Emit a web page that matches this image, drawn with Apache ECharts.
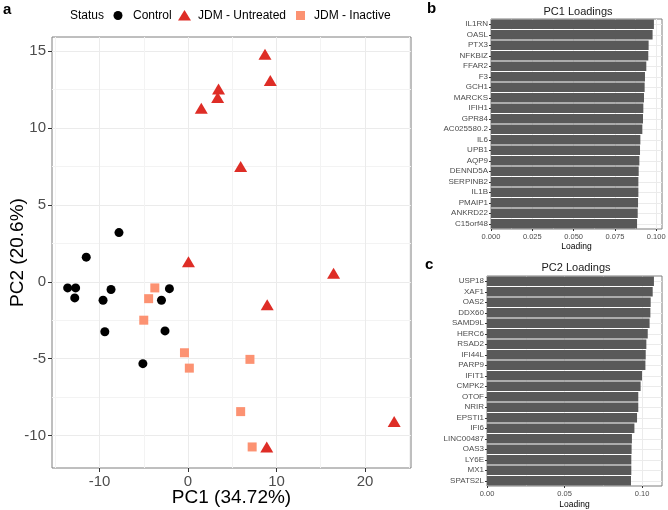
<!DOCTYPE html>
<html>
<head>
<meta charset="utf-8">
<script src="https://cdn.jsdelivr.net/npm/echarts@6/dist/echarts.min.js"></script>
<style>
html,body{margin:0;padding:0;background:#fff;}
#chart{width:668px;height:510px;}
</style>
</head>
<body>
<div id="chart"></div>
<script>
// ---- Data: PCA scores ----
const controlPC1 = [-11.5, -7.8, -13.6, -12.7, -12.8, -8.7, -9.6, -9.4, -5.1, -2.1, -3.0, -2.6];
const controlPC2 = [1.6, 3.2, -0.4, -0.4, -1.05, -0.5, -1.2, -3.25, -5.33, -0.45, -1.2, -3.2];
const untreatedPC1 = [1.5, 3.45, 3.35, 0.05, 8.7, 9.3, 5.95, 16.45, 8.95, 23.3, 8.9];
const untreatedPC2 = [11.3, 12.55, 12.0, 1.3, 14.8, 13.1, 7.5, 0.55, -1.5, -9.1, -10.75];
const inactivePC1 = [-3.75, -4.45, -5.0, -0.4, 0.15, 7.0, 5.95, 7.25];
const inactivePC2 = [-0.4, -1.1, -2.5, -4.62, -5.62, -5.05, -8.45, -10.75];

// ---- Data: loadings ----
const pc1Genes = ['IL1RN','OASL','PTX3','NFKBIZ','FFAR2','F3','GCH1','MARCKS','IFIH1','GPR84',
  'AC025580.2','IL6','UPB1','AQP9','DENND5A','SERPINB2','IL1B','PMAIP1','ANKRD22','C15orf48'];
const pc1Loadings = [0.0986,0.0978,0.0954,0.0952,0.0940,0.0932,0.0930,0.0926,0.0922,0.0920,
  0.0916,0.0904,0.0902,0.0898,0.0894,0.0892,0.0892,0.0890,0.0888,0.0884];
const pc2Genes = ['USP18','XAF1','OAS2','DDX60','SAMD9L','HERC6','RSAD2','IFI44L','PARP9','IFIT1',
  'CMPK2','OTOF','NRIR','EPSTI1','IFI6','LINC00487','OAS3','LY6E','MX1','SPATS2L'];
const pc2Loadings = [0.1077,0.1069,0.1056,0.1054,0.1049,0.1037,0.1028,0.1024,0.1022,0.1000,
  0.0991,0.0976,0.0976,0.0968,0.0951,0.0935,0.0933,0.0931,0.0931,0.0929];

// ---- Tick labels ----
const pc1Ticks = [-10, 0, 10, 20];
const pc2Ticks = [-10, -5, 0, 5, 10, 15];
const loadTicksB = [0, 0.025, 0.05, 0.075, 0.1];
const loadTicksC = [0, 0.05, 0.1];

function zip(a, b) { return a.map((v, i) => [v, b[i]]); }

const FONT = '"Liberation Sans", Arial, Helvetica, sans-serif';
const GRID_MAJ = '#EBEBEB';
const GRID_MIN = '#F3F3F3';
const TXT = '#4D4D4D';
const BORDER = '#7F7F7F';
const centerLines = Array.from({length: 41}, (_, i) => String(i));

const chart = echarts.init(document.getElementById('chart'), null, {renderer: 'canvas'});

const option = {
  backgroundColor: '#fff',
  animation: false,
  textStyle: {fontFamily: FONT},
  title: [
    {text: 'PC1 Loadings', left: 573, top: 1, textAlign: 'center',
      textStyle: {fontSize: 11, fontWeight: 'normal', color: '#1a1a1a', fontFamily: FONT}},
    {text: 'PC2 Loadings', left: 571, top: 257, textAlign: 'center',
      textStyle: {fontSize: 11, fontWeight: 'normal', color: '#1a1a1a', fontFamily: FONT}}
  ],
  grid: [
    {left: 52, top: 37, width: 359, height: 431, show: true, borderColor: BORDER, borderWidth: 1,
      containLabel: false, outerBoundsMode: 'none'},
    {left: 491, top: 19, width: 171, height: 210, show: true, borderColor: BORDER, borderWidth: 1,
      containLabel: false, outerBoundsMode: 'none'},
    {left: 487, top: 276, width: 175, height: 210, show: true, borderColor: BORDER, borderWidth: 1,
      containLabel: false, outerBoundsMode: 'none'}
  ],
  xAxis: [
    {gridIndex: 0, type: 'value', min: -15.37, max: 25.2, minInterval: 10, maxInterval: 10,
      name: 'PC1 (34.72%)', nameLocation: 'middle', nameGap: 20, nameMoveOverlap: false,
      nameTextStyle: {fontSize: 19, color: '#000', fontFamily: FONT},
      axisLine: {show: false, onZero: false},
      axisTick: {show: true, length: 4, lineStyle: {color: '#333'}, customValues: pc1Ticks},
      axisLabel: {fontSize: 15, color: TXT, margin: 6, customValues: pc1Ticks, fontFamily: FONT},
      splitLine: {show: true, lineStyle: {color: GRID_MAJ, width: 1}},
      minorTick: {show: false, splitNumber: 2},
      minorSplitLine: {show: true, lineStyle: {color: GRID_MIN, width: 1}}
    },
    {gridIndex: 1, type: 'value', min: 0, max: 0.1035, minInterval: 0.025, maxInterval: 0.025,
      name: 'Loading', nameLocation: 'middle', nameGap: 13, nameMoveOverlap: false,
      nameTextStyle: {fontSize: 8.5, color: '#000', fontFamily: FONT},
      axisLine: {show: false, onZero: false},
      axisTick: {show: true, length: 2, lineStyle: {color: '#333'}, customValues: loadTicksB},
      axisLabel: {fontSize: 7.5, color: TXT, margin: 4, customValues: loadTicksB,
        formatter: v => v.toFixed(3), fontFamily: FONT},
      splitLine: {show: true, lineStyle: {color: GRID_MAJ, width: 1}},
      minorTick: {show: false, splitNumber: 2},
      minorSplitLine: {show: true, lineStyle: {color: GRID_MIN, width: 1}}
    },
    {gridIndex: 2, type: 'value', min: 0, max: 0.1129, minInterval: 0.05, maxInterval: 0.05,
      name: 'Loading', nameLocation: 'middle', nameGap: 14, nameMoveOverlap: false,
      nameTextStyle: {fontSize: 8.5, color: '#000', fontFamily: FONT},
      axisLine: {show: false, onZero: false},
      axisTick: {show: true, length: 2, lineStyle: {color: '#333'}, customValues: loadTicksC},
      axisLabel: {fontSize: 7.5, color: TXT, margin: 4, customValues: loadTicksC,
        formatter: v => v.toFixed(2), fontFamily: FONT},
      splitLine: {show: true, lineStyle: {color: GRID_MAJ, width: 1}},
      minorTick: {show: false, splitNumber: 2},
      minorSplitLine: {show: true, lineStyle: {color: GRID_MIN, width: 1}}
    }
  ],
  yAxis: [
    {gridIndex: 0, type: 'value', min: -12.12, max: 15.93, minInterval: 5, maxInterval: 5,
      name: 'PC2 (20.6%)', nameLocation: 'middle', nameGap: 25, nameMoveOverlap: false,
      nameTextStyle: {fontSize: 19, color: '#000', fontFamily: FONT},
      axisLine: {show: false, onZero: false},
      axisTick: {show: true, length: 4, lineStyle: {color: '#333'}, customValues: pc2Ticks},
      axisLabel: {fontSize: 15, color: TXT, margin: 6, customValues: pc2Ticks, fontFamily: FONT},
      splitLine: {show: true, lineStyle: {color: GRID_MAJ, width: 1}},
      minorTick: {show: false, splitNumber: 2},
      minorSplitLine: {show: true, lineStyle: {color: GRID_MIN, width: 1}}
    },
    {gridIndex: 1, type: 'category', data: pc1Genes, inverse: true,
      axisLine: {show: false, onZero: false},
      axisTick: {show: true, length: 2, alignWithLabel: true, lineStyle: {color: '#333'}},
      axisLabel: {fontSize: 8, color: TXT, margin: 3, interval: 0, fontFamily: FONT},
      splitLine: {show: false}
    },
    {gridIndex: 2, type: 'category', data: pc2Genes, inverse: true,
      axisLine: {show: false, onZero: false},
      axisTick: {show: true, length: 2, alignWithLabel: true, lineStyle: {color: '#333'}},
      axisLabel: {fontSize: 8, color: TXT, margin: 3, interval: 0, fontFamily: FONT},
      splitLine: {show: false}
    },
    // helper axes: horizontal grid lines at category centres (ggplot style)
    {gridIndex: 1, type: 'category', data: centerLines, boundaryGap: false, position: 'right',
      axisLine: {show: false}, axisTick: {show: false}, axisLabel: {show: false},
      splitLine: {show: true, interval: (i) => i % 2 === 1, lineStyle: {color: GRID_MAJ, width: 1}}
    },
    {gridIndex: 2, type: 'category', data: centerLines, boundaryGap: false, position: 'right',
      axisLine: {show: false}, axisTick: {show: false}, axisLabel: {show: false},
      splitLine: {show: true, interval: (i) => i % 2 === 1, lineStyle: {color: GRID_MAJ, width: 1}}
    }
  ],
  series: [
    {name: 'Control', type: 'scatter', xAxisIndex: 0, yAxisIndex: 0,
      data: zip(controlPC1, controlPC2), symbol: 'circle', symbolSize: 9,
      itemStyle: {color: '#000000', opacity: 1}},
    {name: 'JDM - Untreated', type: 'scatter', xAxisIndex: 0, yAxisIndex: 0,
      data: zip(untreatedPC1, untreatedPC2), symbol: 'triangle', symbolSize: [13, 11],
      itemStyle: {color: '#DE2D26', opacity: 1}},
    {name: 'JDM - Inactive', type: 'scatter', xAxisIndex: 0, yAxisIndex: 0,
      data: zip(inactivePC1, inactivePC2), symbol: 'rect', symbolSize: 9,
      itemStyle: {color: '#FC9272', opacity: 1}},
    {name: 'PC1 Loadings', type: 'bar', xAxisIndex: 1, yAxisIndex: 1,
      data: pc1Loadings, barWidth: '90%', itemStyle: {color: '#595959'}},
    {name: 'PC2 Loadings', type: 'bar', xAxisIndex: 2, yAxisIndex: 2,
      data: pc2Loadings, barWidth: '90%', itemStyle: {color: '#595959'}}
  ],
  graphic: [
    // panel letters
    {type: 'text', left: 3, top: 2, style: {text: 'a', font: 'bold 15px ' + FONT, fill: '#000'}},
    {type: 'text', left: 427, top: 1, style: {text: 'b', font: 'bold 15px ' + FONT, fill: '#000'}},
    {type: 'text', left: 425, top: 257, style: {text: 'c', font: 'bold 15px ' + FONT, fill: '#000'}},
    // legend
    {type: 'text', x: 70, y: 15.5, style: {text: 'Status', font: '12px ' + FONT, fill: '#000', textVerticalAlign: 'middle'}},
    {type: 'circle', shape: {cx: 118, cy: 15.5, r: 4.5}, style: {fill: '#000'}},
    {type: 'text', x: 133, y: 15.5, style: {text: 'Control', font: '12px ' + FONT, fill: '#000', textVerticalAlign: 'middle'}},
    {type: 'polygon', shape: {points: [[184.5, 10], [178, 20.5], [191, 20.5]]}, style: {fill: '#DE2D26'}},
    {type: 'text', x: 198, y: 15.5, style: {text: 'JDM - Untreated', font: '12px ' + FONT, fill: '#000', textVerticalAlign: 'middle'}},
    {type: 'rect', shape: {x: 296, y: 11, width: 9, height: 9}, style: {fill: '#FC9272'}},
    {type: 'text', x: 314, y: 15.5, style: {text: 'JDM - Inactive', font: '12px ' + FONT, fill: '#000', textVerticalAlign: 'middle'}}
  ]
};

chart.setOption(option);
</script>
</body>
</html>
